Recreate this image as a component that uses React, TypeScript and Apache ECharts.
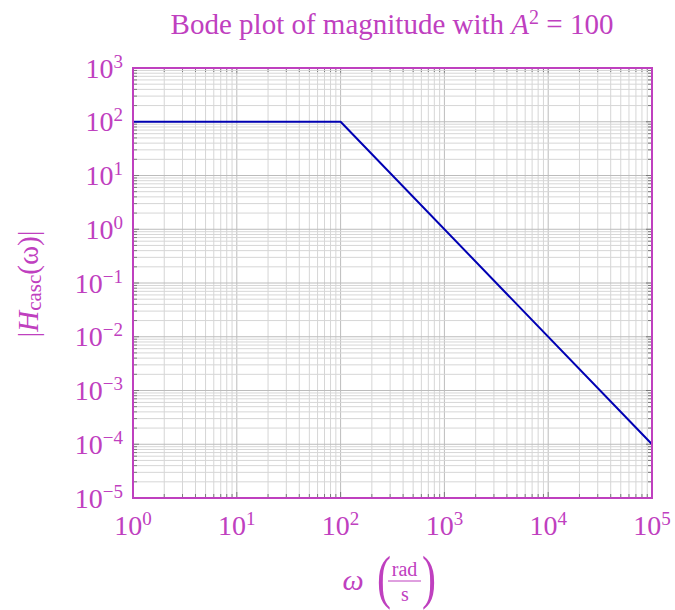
import React, { useEffect, useRef } from "react";
import * as echarts from "echarts";

const MAGENTA = "#BF40BF";
const LINE_BLUE = "#0000B3";
const FONT = "'Liberation Serif', 'DejaVu Serif', serif";

// Data: asymptotic Bode magnitude
const omega = [1, 100, 100000];
const magnitude = [100, 100, 0.0001];

// Axis ranges (decades)
const xRange = [1, 100000];
const yRange = [0.00001, 1000];
const xDecades = [0, 1, 2, 3, 4, 5];
const yDecades = [-5, -4, -3, -2, -1, 0, 1, 2, 3];
const minorMultipliers = [2, 3, 4, 5, 6, 7, 8, 9];

function gridValues(decades: number[]) {
  const out: [number, number][] = [];
  decades.forEach((d, i) => {
    out.push([Math.pow(10, d), 1]);
    if (i < decades.length - 1) {
      minorMultipliers.forEach((m) => out.push([m * Math.pow(10, d), 0]));
    }
  });
  return out;
}

const expFmt = (v: number) => {
  const e = Math.round(Math.log10(v));
  const s = e < 0 ? "\u2212" + Math.abs(e) : String(e);
  return `{b|10}{s|${s}}`;
};

const labelRich = {
  b: { fontFamily: FONT, fontSize: 28, color: MAGENTA, lineHeight: 34 },
  s: { fontFamily: FONT, fontSize: 19, color: MAGENTA, padding: [0, 0, 14, 0], lineHeight: 34 },
};

const MAJOR_GRID = "#bcbcbc";
const MINOR_GRID = "#d6d6d6";
const TICK = "#7a7a7a";

export default function App() {
  const ref = useRef<HTMLDivElement>(null);
  useEffect(() => {
    document.body.style.margin = "0";
    const chart = echarts.init(ref.current!, null, { renderer: "svg" });
    const xGrid = gridValues(xDecades).map(([v, m]) => [v, yRange[0], m]);
    const yGrid = gridValues(yDecades).map(([v, m]) => [xRange[0], v, m]);
    chart.setOption({
      animation: false,
      backgroundColor: "#fff",
      grid: {
        left: 133,
        right: 23,
        top: 68,
        bottom: 112,
        show: true,
        borderColor: MAGENTA,
        borderWidth: 2,
        backgroundColor: "transparent",
        z: 10,
      },
      xAxis: {
        type: "log",
        logBase: 10,
        min: xRange[0],
        max: xRange[1],
        splitNumber: 10,
        axisLine: { show: false },
        axisTick: { show: false },
        splitLine: { show: false },
        axisLabel: { formatter: expFmt, rich: labelRich, margin: 10 },
      },
      yAxis: {
        type: "log",
        logBase: 10,
        min: yRange[0],
        max: yRange[1],
        splitNumber: 10,
        axisLine: { show: false },
        axisTick: { show: false },
        splitLine: { show: false },
        axisLabel: { formatter: expFmt, rich: labelRich, margin: 10 },
      },
      series: [
        {
          type: "custom",
          silent: true,
          z: 1,
          data: xGrid,
          encode: { x: 0, y: 1 },
          renderItem: (params: any, api: any) => {
            const v = api.value(0);
            const major = api.value(2) === 1;
            const top = api.coord([v, yRange[1]]);
            const bot = api.coord([v, yRange[0]]);
            const len = major ? 6 : 4;
            return {
              type: "group",
              children: [
                { type: "line", shape: { x1: top[0], y1: top[1], x2: bot[0], y2: bot[1] }, style: { stroke: major ? MAJOR_GRID : MINOR_GRID, lineWidth: 1 } },
                { type: "line", shape: { x1: bot[0], y1: bot[1], x2: bot[0], y2: bot[1] - len }, style: { stroke: TICK, lineWidth: 1 } },
                { type: "line", shape: { x1: top[0], y1: top[1], x2: top[0], y2: top[1] + len }, style: { stroke: TICK, lineWidth: 1 } },
              ],
            };
          },
        },
        {
          type: "custom",
          silent: true,
          z: 1,
          data: yGrid,
          encode: { x: 0, y: 1 },
          renderItem: (params: any, api: any) => {
            const v = api.value(1);
            const major = api.value(2) === 1;
            const l = api.coord([xRange[0], v]);
            const r = api.coord([xRange[1], v]);
            const len = major ? 6 : 4;
            return {
              type: "group",
              children: [
                { type: "line", shape: { x1: l[0], y1: l[1], x2: r[0], y2: r[1] }, style: { stroke: major ? MAJOR_GRID : MINOR_GRID, lineWidth: 1 } },
                { type: "line", shape: { x1: l[0], y1: l[1], x2: l[0] + len, y2: l[1] }, style: { stroke: TICK, lineWidth: 1 } },
                { type: "line", shape: { x1: r[0], y1: r[1], x2: r[0] - len, y2: r[1] }, style: { stroke: TICK, lineWidth: 1 } },
              ],
            };
          },
        },
        {
          type: "line",
          z: 5,
          data: omega.map((w, i) => [w, magnitude[i]]),
          symbol: "none",
          lineStyle: { color: LINE_BLUE, width: 2 },
        },
      ],
      graphic: [
        {
          type: "text",
          x: 392,
          y: 24,
          style: {
            text: "Bode plot of magnitude with {i|A}{s|2} {b|= 100}",
            textAlign: "center",
            textVerticalAlign: "middle",
            fill: MAGENTA,
            fontFamily: FONT,
            fontSize: 29,
            rich: {
              i: { fontFamily: FONT, fontSize: 29, fontStyle: "italic", fill: MAGENTA, lineHeight: 34 },
              s: { fontFamily: FONT, fontSize: 20, fill: MAGENTA, padding: [0, 0, 14, 0], lineHeight: 34 },
              b: { fontFamily: FONT, fontSize: 29, fill: MAGENTA, lineHeight: 34 },
            },
          },
        },
        {
          type: "text",
          x: 28,
          y: 284,
          rotation: Math.PI / 2,
          style: {
            text: "|{i|H}{sub|casc}(\u03C9)|",
            textAlign: "center",
            textVerticalAlign: "middle",
            fill: MAGENTA,
            fontFamily: FONT,
            fontSize: 29,
            rich: {
              i: { fontFamily: FONT, fontSize: 29, fontStyle: "italic", fill: MAGENTA, lineHeight: 34 },
              sub: { fontFamily: FONT, fontSize: 21, fill: MAGENTA, padding: [12, 0, 0, 0], lineHeight: 34 },
            },
          },
        },
        {
          type: "group",
          children: [
            { type: "text", x: 353, y: 579, style: { text: "\u03C9", fontFamily: FONT, fontSize: 30, fontStyle: "italic", fill: MAGENTA, textAlign: "center", textVerticalAlign: "middle" } },
            { type: "text", x: 384, y: 577, scaleX: 0.7, style: { text: "(", fontFamily: FONT, fontSize: 60, fill: MAGENTA, textAlign: "center", textVerticalAlign: "middle" } },
            { type: "text", x: 404.5, y: 569, style: { text: "rad", fontFamily: FONT, fontSize: 20, fill: MAGENTA, textAlign: "center", textVerticalAlign: "middle" } },
            { type: "line", shape: { x1: 388, y1: 581, x2: 421, y2: 581 }, style: { stroke: MAGENTA, lineWidth: 1 } },
            { type: "text", x: 405, y: 594, style: { text: "s", fontFamily: FONT, fontSize: 20, fill: MAGENTA, textAlign: "center", textVerticalAlign: "middle" } },
            { type: "text", x: 429, y: 577, scaleX: 0.7, style: { text: ")", fontFamily: FONT, fontSize: 60, fill: MAGENTA, textAlign: "center", textVerticalAlign: "middle" } },
          ],
        },
      ],
    });
    return () => chart.dispose();
  }, []);
  return <div ref={ref} style={{ width: 675, height: 610 }} />;
}
